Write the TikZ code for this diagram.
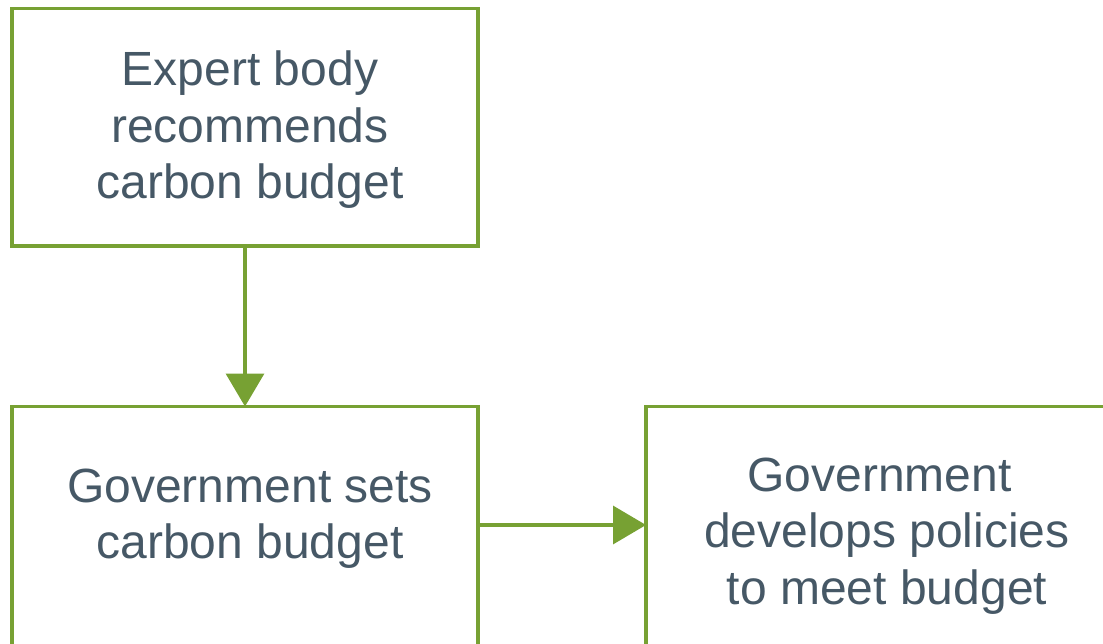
\documentclass[tikz,border=0pt]{standalone}
\usepackage{fontspec}
\setmainfont{Liberation Sans}
\usetikzlibrary{arrows.meta}
\definecolor{boxgreen}{HTML}{77A133}
\definecolor{txtgray}{HTML}{465866}
\begin{document}
\begin{tikzpicture}[x=1pt,y=-1pt,
  box/.style={draw=boxgreen,line width=3.5pt,inner sep=0pt,outer sep=0pt,rectangle},
  lbl/.style={text=txtgray,align=center,inner sep=0pt,font=\fontsize{48}{56.5}\selectfont},
  arr/.style={draw=boxgreen,line width=3.5pt,-{Triangle[length=33pt,width=38pt]}}]
\useasboundingbox (0,0) rectangle (1103,644);
\clip (0,0) rectangle (1103,644);
\node[box,minimum width=466pt,minimum height=237.5pt] (b1) at (245,127.25) {};
\node[box,minimum width=466pt,minimum height=300pt] (b2) at (245,556.5) {};
\node[box,minimum width=490pt,minimum height=300pt] (b3) at (891,556.5) {};
\node[lbl] (t1) at (250,130) {Expert body\\recommends\\carbon budget};
\node[lbl] (t2) at (250,518.5) {Government sets\\carbon budget};
\node[lbl] (t3) at (887,536) {Government\hspace*{15pt}\\develops policies\\to meet budget};
\coordinate (ar2) at (560,525);
\draw[arr] (b1.south) -- (b2.north);
\draw[arr] (b2.east |- ar2) -- (b3.west |- ar2);
\end{tikzpicture}
\end{document}
